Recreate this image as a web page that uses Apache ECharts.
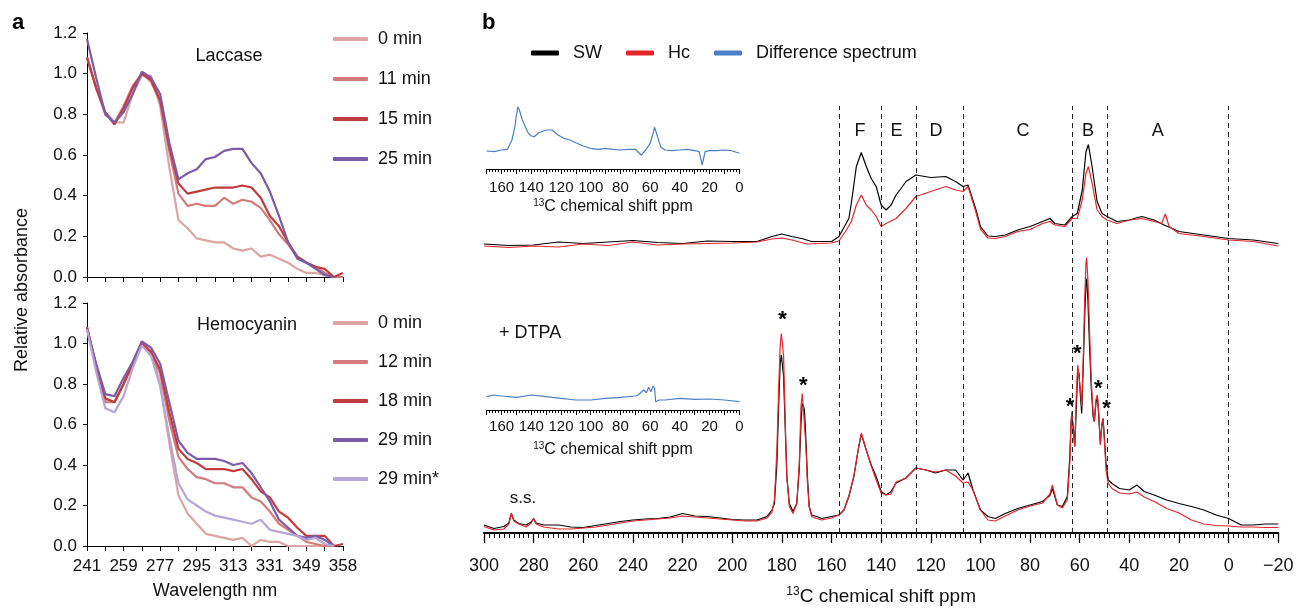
<!DOCTYPE html>
<html><head><meta charset="utf-8">
<script src="https://cdn.jsdelivr.net/npm/echarts@6/dist/echarts.min.js"></script>
<style>html,body{margin:0;padding:0;background:#fff}#c{width:1299px;height:610px}</style>
</head><body><div id="c"></div>
<script>
const FONT = '"Liberation Sans", Arial, Helvetica, sans-serif';

// ---------- Panel a : UV-vis ----------
const wavelengths = ["241","245","250","254","259","263","268","272","277","281","286","290","295","299","304","308","313","317","322","326","331","335","340","344","349","351","354","356","358"];
const lac0  = [1.08,0.93,0.80,0.76,0.76,0.90,0.99,0.99,0.84,0.54,0.28,0.24,0.19,0.18,0.17,0.17,0.14,0.13,0.14,0.10,0.11,0.09,0.07,0.04,0.02,0.02,0.01,0.00,null];
const lac11 = [1.08,0.93,0.81,0.76,0.84,0.94,1.00,0.96,0.86,0.62,0.41,0.35,0.36,0.35,0.35,0.39,0.36,0.38,0.37,0.34,0.28,0.21,0.16,0.10,0.07,0.05,0.02,0.00,0.00];
const lac15 = [1.08,0.93,0.81,0.75,0.83,0.93,1.00,0.97,0.87,0.64,0.46,0.41,0.42,0.43,0.44,0.44,0.44,0.45,0.44,0.39,0.30,0.25,0.17,0.10,0.07,0.05,0.04,0.00,0.02];
const lac25 = [1.17,0.98,0.80,0.76,0.81,0.90,1.01,0.98,0.90,0.66,0.48,0.51,0.53,0.58,0.59,0.62,0.63,0.63,0.56,0.51,0.42,0.30,0.17,0.09,0.07,0.04,0.01,0.00,null];
const hem0  = [1.08,0.89,0.72,0.71,0.80,0.90,1.01,0.96,0.80,0.51,0.25,0.16,0.11,0.06,0.05,0.04,0.03,0.04,0.00,0.03,0.02,0.02,0.00,0.00,0.00,0.00,0.00,0.00,null];
const hem12 = [1.08,0.89,0.71,0.71,0.80,0.90,1.00,0.95,0.85,0.62,0.44,0.38,0.34,0.33,0.31,0.31,0.29,0.29,0.24,0.22,0.17,0.11,0.08,0.05,0.02,0.01,0.00,0.00,null];
const hem18 = [1.08,0.89,0.73,0.71,0.80,0.90,1.00,0.96,0.87,0.66,0.48,0.43,0.41,0.38,0.38,0.38,0.37,0.38,0.33,0.27,0.24,0.17,0.14,0.09,0.05,0.05,0.05,0.00,0.01];
const hem29 = [1.07,0.90,0.75,0.74,0.83,0.91,1.01,0.98,0.90,0.71,0.52,0.46,0.43,0.43,0.43,0.42,0.40,0.41,0.36,0.29,0.22,0.13,0.09,0.05,0.04,0.05,0.03,0.00,null];
const hem29s= [1.07,0.86,0.68,0.66,0.74,0.88,0.99,0.94,0.79,0.54,0.31,0.23,0.20,0.17,0.15,0.14,0.13,0.12,0.11,0.13,0.08,0.07,0.06,0.05,0.03,0.04,0.01,0.00,null];
const absTicks = [0, 1.2, 0.2];

// ---------- Panel b : 13C NMR (ppm, intensity) ----------
const swTop = [[300,57.8],[290,57.5],[280,57.6],[270,58.2],[260,57.9],[250,58.2],[240,58.5],[230,58.1],[220,57.9],[210,58.4],[200,58.3],[190,58.3],[184,59.3],[180,59.8],[176,59.3],[172,58.9],[168,58.3],[160,58.3],[157,59.3],[154,62.0],[153,62.9],[152,66.0],[150,73.3],[148,76.1],[146,73.3],[144,70.9],[142,69.3],[140,65.6],[138,64.6],[136,65.6],[134,67.6],[132,68.9],[130,70.3],[126,71.6],[120,71.1],[114,71.3],[110,70.3],[107,69.3],[105,69.6],[102,65.0],[100,61.3],[97,59.4],[94,59.3],[90,59.6],[85,60.6],[80,61.3],[75,62.3],[72,62.9],[70,61.9],[66,61.6],[63,63.3],[61,63.9],[59,68.5],[57.5,76.2],[56.5,77.7],[55,73.2],[53,66.3],[51,63.9],[49,63.3],[45,62.3],[40,62.6],[35,63.3],[30,62.6],[26,61.6],[20,60.3],[10,59.6],[0,58.9],[-10,58.6],[-20,57.9]];
const hcTop = [[300,57.4],[290,57.1],[280,57.4],[270,57.2],[260,57.8],[250,57.5],[240,58.2],[230,57.6],[220,57.8],[210,57.9],[200,58.0],[190,58.2],[184,58.8],[180,59.0],[176,58.6],[170,57.8],[160,58.0],[157,58.4],[154,60.6],[152,62.3],[150,65.6],[148,67.6],[146,65.6],[144,64.6],[142,63.3],[140,61.3],[138,61.9],[134,62.9],[130,64.9],[126,67.3],[120,68.3],[114,69.3],[110,68.6],[107,68.3],[105,69.3],[102,64.5],[100,60.8],[97,59.0],[94,58.9],[90,59.3],[85,60.3],[80,60.7],[75,61.9],[72,62.3],[70,61.6],[66,61.3],[63,62.9],[61,62.9],[59,66.6],[57.5,71.9],[56.5,73.3],[55,69.9],[53,64.6],[51,63.3],[49,62.6],[45,61.9],[40,62.6],[35,62.9],[30,62.3],[27,61.9],[25.5,63.8],[24,61.3],[20,59.9],[10,59.3],[0,58.6],[-10,58.3],[-20,57.4]];
const swBot = [[300,1.6],[296,0.9],[292,1.3],[290,2.0],[289,3.8],[288,2.6],[286,1.9],[283,1.6],[281,2.2],[280,2.9],[279,2.0],[276,1.6],[270,1.6],[265,1.2],[260,1.1],[255,1.5],[250,1.9],[245,2.3],[240,2.6],[235,2.8],[230,2.9],[225,3.2],[220,3.9],[215,3.4],[210,3.3],[205,3.0],[200,2.7],[195,2.6],[190,2.6],[186,3.3],[184,4.6],[183,5.9],[182,13.9],[181.3,25.3],[180.7,33.9],[180.2,35.6],[179.8,35.3],[179.3,31.3],[178.7,21.9],[178,11.3],[177,5.9],[175.5,4.3],[174,5.9],[173,12.6],[172.3,21.9],[171.8,25.9],[171.3,25.3],[170.9,24.6],[170.3,18.6],[169.7,11.3],[169,5.3],[168,3.6],[166,3.3],[164,2.9],[160,3.3],[157,3.6],[155,4.6],[153,7.3],[151,11.3],[149,17.3],[148,19.8],[146,16.6],[144,13.6],[142,11.3],[140,8.3],[138,7.6],[136,8.3],[134,10.0],[130,11.0],[126,13.0],[122,12.6],[118,12.0],[114,12.6],[110,12.6],[107,10.6],[105,12.0],[103,8.6],[100,4.6],[97,3.3],[94,2.9],[90,3.9],[85,4.9],[80,5.6],[75,6.3],[72,7.5],[71,8.9],[69,5.6],[67,5.3],[65,7.3],[64,15.3],[63.5,21.9],[63.2,23.9],[62.5,20.6],[62,17.3],[61.4,24.6],[60.8,32.6],[60.3,31.9],[59.7,27.3],[59.2,23.9],[58.5,34.6],[58,43.3],[57.5,49.9],[57.2,50.9],[56.7,46.6],[56,36.6],[55.3,28.6],[54.6,23.3],[54.1,22.3],[53.5,25.9],[52.9,27.3],[52.4,23.9],[51.7,17.9],[51.1,21.3],[50.6,22.9],[50,18.6],[49.4,13.9],[48.5,10.6],[47,9.9],[44,8.9],[40,8.6],[37,9.6],[34,8.3],[30,7.6],[25,6.6],[20,5.9],[15,5.3],[10,4.6],[5,3.6],[0,2.9],[-5,1.6],[-10,1.6],[-15,1.8],[-20,1.8]];
const hcBot = [[300,1.3],[296,0.6],[292,0.8],[290,1.8],[289,4.0],[288,2.4],[286,1.8],[283,1.2],[281,2.0],[280,2.9],[279,1.8],[276,1.2],[270,0.8],[265,0.8],[260,1.0],[255,1.2],[250,1.6],[245,2.0],[240,2.4],[235,2.6],[230,2.8],[225,3.0],[220,3.4],[215,3.2],[210,3.0],[205,2.8],[200,2.6],[195,2.4],[190,2.4],[186,3.0],[184,4.2],[183,6.6],[182,16.6],[181.3,28.6],[180.7,37.3],[180.2,39.9],[179.8,40.3],[179.3,35.3],[178.7,23.3],[178,11.3],[177,5.3],[175.5,3.9],[174,5.9],[173,13.9],[172.3,25.3],[171.8,27.9],[171.3,24.6],[170.9,24.9],[170.3,17.3],[169.7,9.9],[169,5.3],[168,3.3],[166,2.9],[164,2.6],[160,3.0],[157,3.6],[155,4.6],[153,7.4],[151,11.4],[149,17.4],[148,20.0],[146,16.6],[144,13.4],[142,10.6],[140,8.0],[138,7.6],[136,7.8],[134,10.2],[130,11.0],[126,13.0],[122,12.6],[118,12.2],[114,12.6],[110,11.4],[107,10.0],[105,10.2],[103,8.6],[100,4.6],[97,2.6],[94,2.4],[90,3.4],[85,4.6],[80,5.4],[75,6.0],[72,7.8],[71,9.6],[69,5.6],[67,5.0],[65,6.6],[64,13.9],[63.5,21.9],[63.2,24.3],[62.5,19.3],[62,17.3],[61.4,27.3],[60.8,33.6],[60.3,33.9],[59.7,28.6],[59.2,25.3],[58.5,36.6],[58,46.6],[57.5,53.9],[57.2,55.1],[56.7,50.6],[56,39.9],[55.3,29.9],[54.6,23.9],[54.1,22.3],[53.5,26.6],[52.9,27.6],[52.4,24.6],[51.7,17.6],[51.1,21.9],[50.6,22.9],[50,17.9],[49.4,12.6],[48.5,9.9],[47,8.9],[44,8.0],[40,7.8],[37,8.2],[34,7.2],[30,6.3],[25,4.9],[20,4.0],[15,2.6],[10,1.8],[5,1.5],[0,1.4],[-5,1.2],[-10,1.2],[-15,1.1],[-20,1.1]];
const diffTop = [[170,18],[165,17.3],[160,19],[156,19.7],[153,29],[151,42.3],[150,54],[149,62.3],[148,59],[146,49],[144,42.3],[142,35.7],[140,33],[138,32.3],[135,36.3],[130,39],[126,39],[122,34],[118,30.7],[114,29],[110,26.3],[105,23],[100,20.7],[95,19.7],[90,20.7],[85,19.7],[80,19],[75,19.7],[70,19.7],[66,14],[63,19],[60,25.7],[58,35.7],[57,41.7],[55,32.3],[53,22.3],[50,19],[45,18.3],[40,19],[35,19.7],[30,18.3],[27,17.3],[25,4],[23,17.3],[20,18.3],[15,18.3],[10,19],[5,18.3],[0,15.7]];
const diffBot = [[170,13.3],[165,15],[160,14],[150,12.7],[140,15],[130,13.3],[120,11.7],[110,10],[100,10],[90,11.7],[80,12.7],[70,14],[68,15],[64.4,20],[62.5,17.3],[61,22.7],[59.5,18.3],[58,24],[57,21.7],[56.3,8.3],[54,10],[50,10],[40,11.7],[30,10.7],[20,11],[10,10],[0,8.3]];
const regionBounds = [157, 140, 126, 107, 63, 49, 0];
const regionNames = ['F','E','D','C','B','A'];
const regionLabelPpm = [148.5, 133.8, 117.9, 82.9, 56.7, 28.6];
const regionLabelLevel = 80.3;
const dashTop = 85.4;
const starPeaks = [[179.7,43.6],[171.4,30.5],[63.9,26.3],[61.0,36.9],[52.5,29.9],[49.2,25.8]];
const mainRange = [-20, 300, 20];   // min, max, labelled step
const insetRange = [0, 170, 10];

const C = {p0:'#dca5a3', p11:'#d47b79', p15:'#c33b3d', p25:'#7b5ca8', p29s:'#b6a5d6', sw:'#000000', hc:'#e5262b', diff:'#4b7fc3'};

const txt = (s, o) => Object.assign({fontFamily: FONT, color:'#111'}, s, o || {});

function uvLine(name, data, color, xi) {
  return {type:'line', name, data, xAxisIndex:xi, yAxisIndex:xi, symbol:'none', showSymbol:false,
    color, itemStyle:{color}, lineStyle:{color, width:2.2}, connectNulls:false, silent:true, z:3};
}
function nmrLine(name, data, color, xi, yi, w) {
  return {type:'line', name, data, xAxisIndex:xi, yAxisIndex:yi, symbol:'none', showSymbol:false,
    color, itemStyle:{color}, lineStyle:{color, width:w||1.2}, silent:true, z:3};
}
const uvY = (gi) => ({type:'value', gridIndex:gi, min:absTicks[0], max:absTicks[1], interval:absTicks[2],
  axisLine:{show:true, lineStyle:{color:'#000', width:1}}, axisTick:{show:true, length:4, lineStyle:{color:'#000'}},
  splitLine:{show:false}, axisLabel:{fontSize:17, fontFamily:FONT, color:'#111', margin:10, formatter:v=>v.toFixed(1)}});
const nmrInsetX = (gi, margin, gap) => ({type:'value', gridIndex:gi, position:'bottom', min:insetRange[0], max:insetRange[1], interval:insetRange[2], inverse:true,
  axisLine:{show:true, onZero:false, lineStyle:{color:'#000', width:1.2}}, axisTick:{show:true, length:5, lineStyle:{color:'#000'}},
  minorTick:{show:true, splitNumber:5, length:3, lineStyle:{color:'#000', width:1}},
  splitLine:{show:false}, minorSplitLine:{show:false},
  axisLabel:{fontSize:15, fontFamily:FONT, color:'#111', margin, formatter:v=>(v%20===0 && v<=160)? String(v):''},
  name:'{s|13}{n|C chemical shift ppm}', nameLocation:'middle', nameGap:gap,
  nameTextStyle:{fontFamily:FONT, color:'#111', rich:{s:{fontSize:10, fontFamily:FONT, color:'#111', verticalAlign:'top', lineHeight:10}, n:{fontSize:16, fontFamily:FONT, color:'#111', lineHeight:18}}}});

const option = {
  animation:false,
  backgroundColor:'#fff',
  grid:[
    {left:87, top:33, width:256, height:244, outerBoundsMode:'none'},
    {left:87, top:303, width:256, height:243, outerBoundsMode:'none'},
    {left:484, top:33, width:794.3, height:500, outerBoundsMode:'none'},
    {left:486.7, top:100, width:252.6, height:69, outerBoundsMode:'none'},
    {left:486.7, top:370, width:252.6, height:40, outerBoundsMode:'none'}
  ],
  xAxis:[
    {type:'category', gridIndex:0, data:wavelengths, boundaryGap:false,
      axisLine:{lineStyle:{color:'#000', width:1}}, axisTick:{show:true, interval:1, length:5, lineStyle:{color:'#000'}},
      axisLabel:{show:false}, splitLine:{show:false}},
    {type:'category', gridIndex:1, data:wavelengths, boundaryGap:false,
      axisLine:{lineStyle:{color:'#000', width:1}}, axisTick:{show:true, interval:1, length:5, lineStyle:{color:'#000'}},
      axisLabel:{show:true, interval:3, fontSize:17, fontFamily:FONT, color:'#111', margin:12, hideOverlap:false},
      splitLine:{show:false}, name:'Wavelength nm', nameLocation:'middle', nameGap:36,
      nameTextStyle:{fontSize:18, fontFamily:FONT, color:'#111'}},
    {type:'value', gridIndex:2, position:'bottom', min:mainRange[0], max:mainRange[1], interval:mainRange[2], inverse:true,
      axisLine:{show:true, onZero:false, lineStyle:{color:'#000', width:2}}, axisTick:{show:true, length:10, lineStyle:{color:'#000', width:1.3}},
      minorTick:{show:true, splitNumber:10, length:5, lineStyle:{color:'#000', width:1}},
      splitLine:{show:false}, minorSplitLine:{show:false},
      axisLabel:{fontSize:18, fontFamily:FONT, color:'#111', margin:24, formatter:v=>String(v).replace('-', '\u2212')},
      name:'{s|13}{n|C chemical shift ppm}', nameLocation:'middle', nameGap:53,
      nameTextStyle:{fontFamily:FONT, color:'#111', rich:{s:{fontSize:12, fontFamily:FONT, color:'#111', verticalAlign:'top', lineHeight:12}, n:{fontSize:19, fontFamily:FONT, color:'#111', lineHeight:22}}}},
    nmrInsetX(3, 11, 29),
    nmrInsetX(4, 9, 31)
  ],
  yAxis:[
    uvY(0), uvY(1),
    {type:'value', gridIndex:2, min:0, max:100, show:false},
    {type:'value', gridIndex:3, min:0, max:69, show:false},
    {type:'value', gridIndex:4, min:0, max:40, show:false}
  ],
  legend:[
    {data:['0 min','11 min','15 min','25 min'], orient:'vertical', left:333, top:29, padding:0, itemWidth:35, itemHeight:4, itemGap:20,
      icon:'roundRect', selectedMode:false, textStyle:txt({fontSize:18, lineHeight:20, padding:[0,0,0,5]})},
    {data:['0 min','12 min','18 min','29 min','29 min*'], orient:'vertical', left:333, top:313, padding:0, itemWidth:35, itemHeight:4, itemGap:19,
      icon:'roundRect', selectedMode:false, textStyle:txt({fontSize:18, lineHeight:20, padding:[0,0,0,5]})},
    {data:['SW','Hc','Difference spectrum'], orient:'horizontal', left:531, top:43, padding:0, itemWidth:28, itemHeight:5, itemGap:24,
      icon:'roundRect', selectedMode:false, textStyle:txt({fontSize:18, lineHeight:20, padding:[0,0,0,9]})}
  ],
  graphic:[
    {type:'text', x:12, y:23, style:{text:'a', font:'bold 22px '+FONT, fill:'#000', align:'left', verticalAlign:'middle'}},
    {type:'text', x:482, y:23, style:{text:'b', font:'bold 22px '+FONT, fill:'#000', align:'left', verticalAlign:'middle'}},
    {type:'text', x:22, y:290, rotation:Math.PI/2, style:{text:'Relative absorbance', font:'18px '+FONT, fill:'#111', align:'center', verticalAlign:'middle'}},
    {type:'text', x:229, y:56, style:{text:'Laccase', font:'18px '+FONT, fill:'#111', align:'center', verticalAlign:'middle'}},
    {type:'text', x:247, y:325, style:{text:'Hemocyanin', font:'18px '+FONT, fill:'#111', align:'center', verticalAlign:'middle'}},
    {type:'text', x:499, y:333, style:{text:'+ DTPA', font:'18px '+FONT, fill:'#111', align:'left', verticalAlign:'middle'}},
    {type:'text', x:523, y:498, style:{text:'s.s.', font:'17px '+FONT, fill:'#111', align:'center', verticalAlign:'middle'}}
  ],
  series:[
    uvLine('0 min', lac0, C.p0, 0), uvLine('11 min', lac11, C.p11, 0), uvLine('15 min', lac15, C.p15, 0), uvLine('25 min', lac25, C.p25, 0),
    uvLine('0 min', hem0, C.p0, 1), uvLine('12 min', hem12, C.p11, 1), uvLine('18 min', hem18, C.p15, 1), uvLine('29 min', hem29, C.p25, 1), uvLine('29 min*', hem29s, C.p29s, 1),
    nmrLine('SW', swTop, C.sw, 2, 2), nmrLine('Hc', hcTop, C.hc, 2, 2),
    Object.assign(nmrLine('SW', swBot, C.sw, 2, 2), {markLine:{silent:true, symbol:['none','none'], label:{show:false},
      lineStyle:{color:'#222', type:[5,4], width:1}, animation:false,
      data: regionBounds.map(b => [{coord:[b,0]},{coord:[b,dashTop]}])}}),
    nmrLine('Hc', hcBot, C.hc, 2, 2),
    nmrLine('Difference spectrum', diffTop, C.diff, 3, 3), nmrLine('Difference spectrum', diffBot, C.diff, 4, 4),
    {type:'scatter', name:'regions', xAxisIndex:2, yAxisIndex:2, symbolSize:1, itemStyle:{color:'rgba(0,0,0,0)', opacity:1}, silent:true,
      data: regionNames.map((n,i)=>({name:n, value:[regionLabelPpm[i], regionLabelLevel]})),
      label:{show:true, position:'inside', formatter:'{b}', fontSize:18, fontFamily:FONT, color:'#111', opacity:1, textBorderWidth:0}},
    {type:'scatter', name:'stars', xAxisIndex:2, yAxisIndex:2, symbolSize:1, itemStyle:{color:'rgba(0,0,0,0)', opacity:1}, silent:true,
      data: starPeaks, label:{show:true, position:'inside', formatter:'*', fontSize:22, fontWeight:'bold', fontFamily:FONT, color:'#000', opacity:1, textBorderWidth:0, offset:[0,5]}}
  ]
};
const chart = echarts.init(document.getElementById('c'), null, {renderer:'canvas'});
chart.setOption(option);
</script></body></html>
